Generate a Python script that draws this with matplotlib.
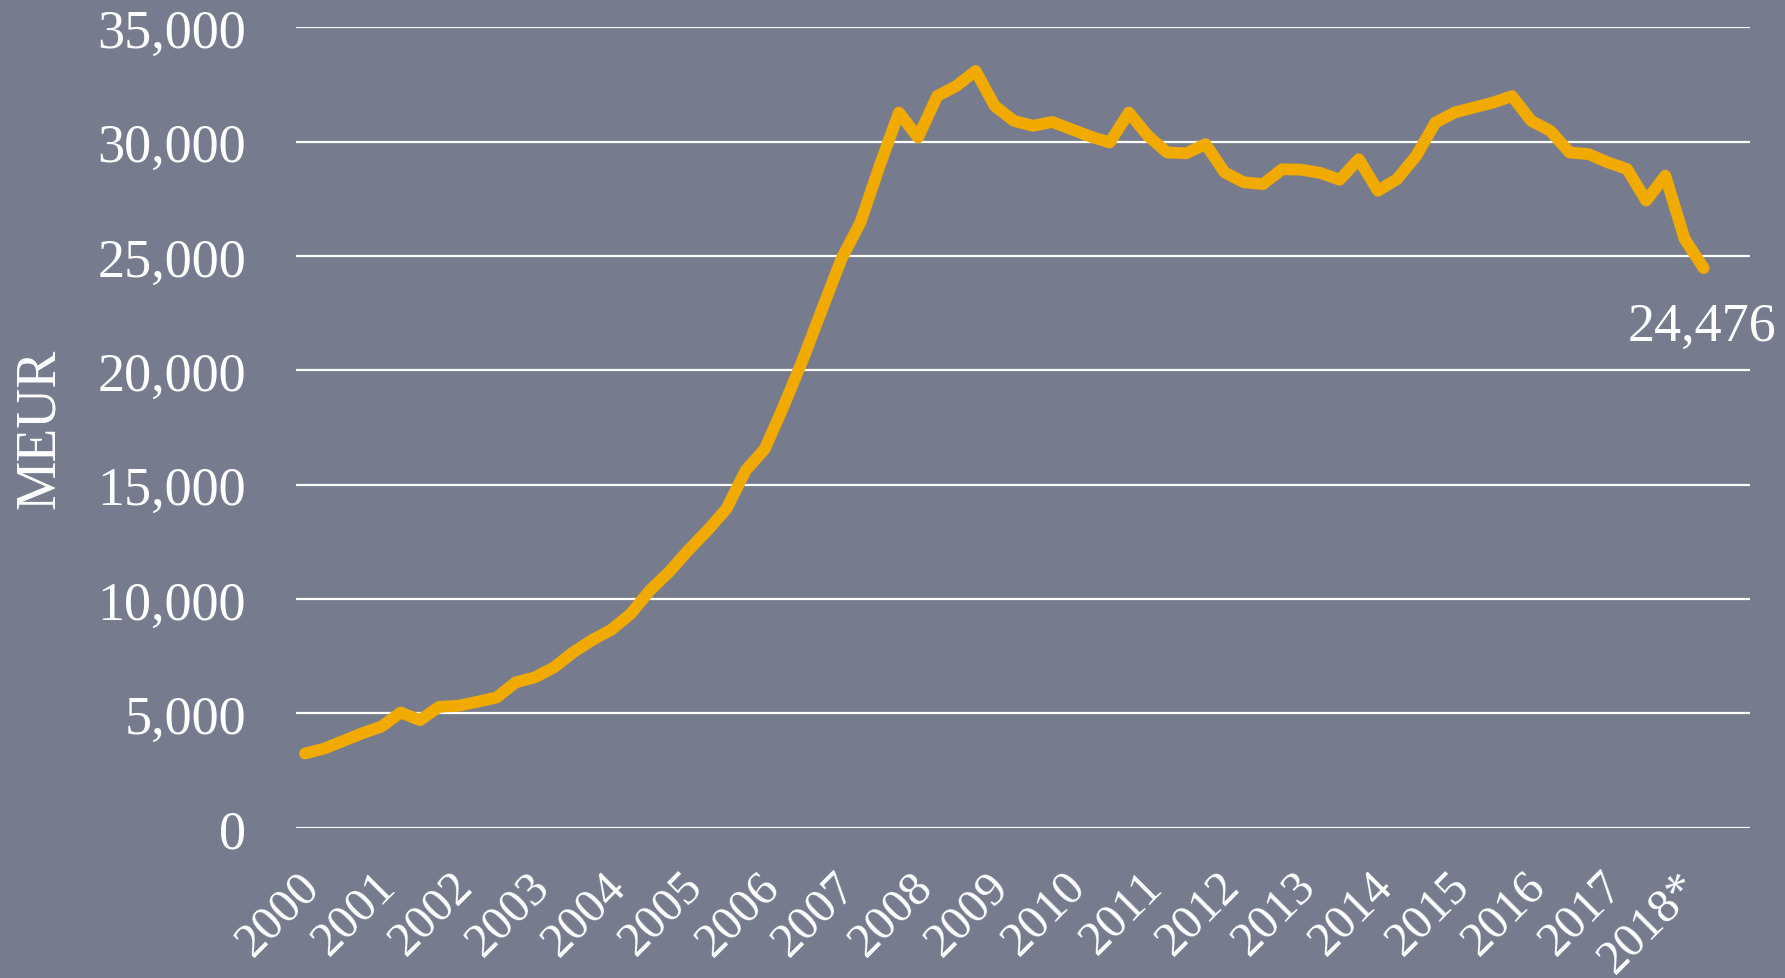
import matplotlib
matplotlib.use('Agg')
import matplotlib.pyplot as plt
import matplotlib.transforms as mtransforms
from matplotlib.ticker import FuncFormatter

# Quarterly values, 2000 Q1 .. 2018 Q2 (MEUR)
values = [3250, 3465, 3800, 4137, 4430, 5044, 4708, 5292,
          5336, 5512, 5700, 6360, 6580, 7018, 7675, 8216,
          8670, 9357, 10380, 11185, 12130, 13000, 13950, 15630,
          16570, 18470, 20510, 22700, 24880, 26490, 28970, 31280,
          30190, 32006, 32440, 33100, 31570, 30916, 30700, 30870,
          30550, 30230, 29970, 31280, 30260, 29535, 29500, 29900,
          28660, 28230, 28150, 28800, 28780, 28640, 28340, 29240,
          27860, 28370, 29390, 30840, 31280, 31500, 31715, 32000,
          30915, 30480, 29535, 29460, 29100, 28810, 27430, 28520,
          25760, 24476]
year_labels = ['2000', '2001', '2002', '2003', '2004', '2005', '2006',
               '2007', '2008', '2009', '2010', '2011', '2012', '2013',
               '2014', '2015', '2016', '2017', '2018*']
last_label = '24,476'

bg = '#767c8d'
line_col = '#f0aa00'
plt.rcParams['font.family'] = ['Liberation Serif', 'DejaVu Serif']

fig = plt.figure(figsize=(17.85, 9.79), dpi=100, facecolor=bg)
ax = fig.add_axes([0.1658, 0.1534, 0.9802 - 0.1658, 0.9709 - 0.1534])
ax.set_facecolor(bg)

x = list(range(len(values)))
ax.plot(x, values, color=line_col, lw=8.5, solid_joinstyle='round',
        solid_capstyle='round', zorder=3)

ax.set_ylim(0, 35000)
ax.set_xlim(-0.47, 75.4)
ax.set_yticks(range(0, 35001, 5000))
ax.yaxis.set_major_formatter(FuncFormatter(lambda v, p: f'{int(v):,}'))
ax.grid(axis='y', color='white', lw=1.6, zorder=1)
ax.set_axisbelow(True)

ax.set_xticks([4 * k for k in range(len(year_labels))])
ax.set_xticklabels(year_labels)
ax.tick_params(axis='x', length=0, pad=37, labelsize=35, colors='white')
ax.tick_params(axis='y', length=0, pad=36, labelsize=39, colors='white')
shift = mtransforms.ScaledTranslation(8 / 100, 0, fig.dpi_scale_trans)
for lab in ax.get_xticklabels():
    lab.set_rotation(45)
    lab.set_ha('right')
    lab.set_va('center')
    lab.set_rotation_mode('anchor')
    lab.set_transform(lab.get_transform() + shift)

for s in ax.spines.values():
    s.set_visible(False)

ax.set_ylabel('MEUR', fontsize=40, color='white')
ax.yaxis.set_label_coords(-0.158, 0.5)

ax.annotate(last_label, (x[-1], values[-1]), xytext=(-1, -42),
            textcoords='offset points', ha='center', va='center',
            fontsize=39, color='white')

fig.savefig('out.png', dpi=100, facecolor=bg)
